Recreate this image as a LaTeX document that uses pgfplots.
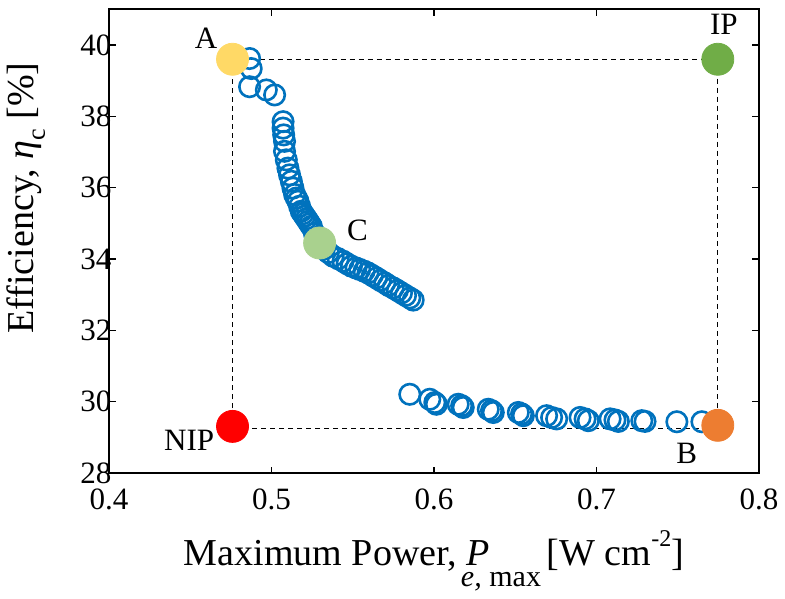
\documentclass[border=0pt]{standalone}
\usepackage{fontspec}
\setmainfont{Liberation Serif}
\usepackage{pgfplots}
\pgfplotsset{compat=1.18}
\definecolor{mblue}{RGB}{0,114,189}
\definecolor{cA}{RGB}{255,217,102}
\definecolor{cIP}{RGB}{112,173,71}
\definecolor{cC}{RGB}{169,209,142}
\definecolor{cNIP}{RGB}{255,0,0}
\definecolor{cB}{RGB}{237,125,49}
\begin{document}
\begin{tikzpicture}
\begin{axis}[
  scale only axis, width=324.5pt, height=231.6pt,
  xmin=0.4, xmax=0.8, ymin=28, ymax=41,
  xtick={0.4,0.5,0.6,0.7,0.8}, ytick={28,30,32,34,36,38,40},
  tick align=inside, major tick length=3.3pt,
  axis line style={line width=0.9pt},
  every tick/.style={black, line width=0.6pt},
  font=\fontsize{15.5}{18}\selectfont,
  /pgf/number format/assume math mode=true,
  xticklabel style={yshift=-4.5pt, /pgf/number format/.cd, fixed, precision=1, fixed zerofill},
  yticklabel style={xshift=4.7pt},
  xlabel={Maximum Power, \makebox[0pt][l]{\textit{P}}\hspace{-0.15em}\raisebox{-10.5pt}{\fontsize{15}{18}\selectfont\textit{e,} max}\hspace{-0.1em} [W cm\raisebox{0.5em}{\fontsize{12}{13}\selectfont -2}]},
  xlabel style={at={(axis description cs:0.5,0)}, anchor=base, yshift=-46.3pt, font=\fontsize{19}{22}\selectfont},
  ylabel={Efficiency, \textit{η}\raisebox{-0.3em}{\fontsize{13}{14}\selectfont c} [\%]},
  ylabel style={at={(axis description cs:-0.1163,0.593)}, anchor=base, font=\fontsize{19}{22}\selectfont},
  clip=false,
]
\addplot[black, line width=0.5pt, dash pattern=on 2.5pt off 2pt] coordinates {
(0.476,39.6) (0.7747,39.6) (0.7747,29.24) (0.476,29.24) (0.476,39.6)};
\addplot[only marks, mark=o, mark size=5.1pt, mblue, line width=1.3pt] coordinates {
(0.4865,39.62) (0.4875,39.34) (0.4865,38.83) (0.4968,38.74) (0.5019,38.60)
(0.5071,37.85) (0.5071,37.67) (0.5075,37.48) (0.5080,37.30) (0.5080,37.02)
(0.5091,36.78) (0.5101,36.55) (0.5111,36.36) (0.5122,36.18) (0.5132,35.99)
(0.5142,35.81) (0.5153,35.71) (0.5163,35.62) (0.5173,35.48) (0.5183,35.34)
(0.5194,35.27) (0.5204,35.20) (0.5215,35.13) (0.5225,35.06) (0.5235,34.99)
(0.5245,34.92) (0.5264,34.72) (0.5294,34.44) (0.5325,34.28) (0.5350,34.18)
(0.5379,34.08) (0.5410,34.01) (0.5440,33.94) (0.5465,33.87) (0.5492,33.80)
(0.5520,33.75) (0.5543,33.71) (0.5570,33.66) (0.5594,33.61) (0.5620,33.54)
(0.5646,33.47) (0.5670,33.40) (0.5697,33.33) (0.5720,33.26) (0.5749,33.19)
(0.5775,33.12) (0.5800,33.05) (0.5825,32.98) (0.5851,32.91) (0.5872,32.85)
};
\addplot[only marks, mark=o, mark size=5.1pt, mblue, line width=1.3pt] coordinates {
(0.5851,30.21) (0.5974,30.07) (0.6005,29.98) (0.6015,29.93)
(0.6149,29.93) (0.6170,29.89) (0.6180,29.84)
(0.6334,29.79) (0.6354,29.75) (0.6365,29.70)
(0.6519,29.70) (0.6539,29.66) (0.6550,29.61)
(0.6693,29.61) (0.6724,29.56) (0.6755,29.52)
(0.6899,29.56) (0.6930,29.52) (0.6950,29.47)
(0.7084,29.52) (0.7114,29.49) (0.7135,29.45)
(0.7279,29.47) (0.7299,29.45) (0.7495,29.44) (0.7649,29.44)
};
\addplot[only marks, mark=*, mark size=8pt, mark options={draw=cA, fill=cA}] coordinates {(0.476,39.6)};
\addplot[only marks, mark=*, mark size=8pt, mark options={draw=cIP, fill=cIP}] coordinates {(0.7747,39.6)};
\addplot[only marks, mark=*, mark size=8pt, mark options={draw=cC, fill=cC}] coordinates {(0.5296,34.45)};
\addplot[only marks, mark=*, mark size=8pt, mark options={draw=cNIP, fill=cNIP}] coordinates {(0.476,29.31)};
\addplot[only marks, mark=*, mark size=8pt, mark options={draw=cB, fill=cB}] coordinates {(0.7747,29.34)};
\node at (axis cs:0.4598,40.2) {A};
\node at (axis cs:0.7784,40.59) {IP};
\node at (axis cs:0.5529,34.81) {C};
\node at (axis cs:0.4493,28.91) {NIP};
\node at (axis cs:0.7556,28.55) {B};
\end{axis}
\path ([yshift=4.65pt]current axis.north east);
\end{tikzpicture}
\end{document}
